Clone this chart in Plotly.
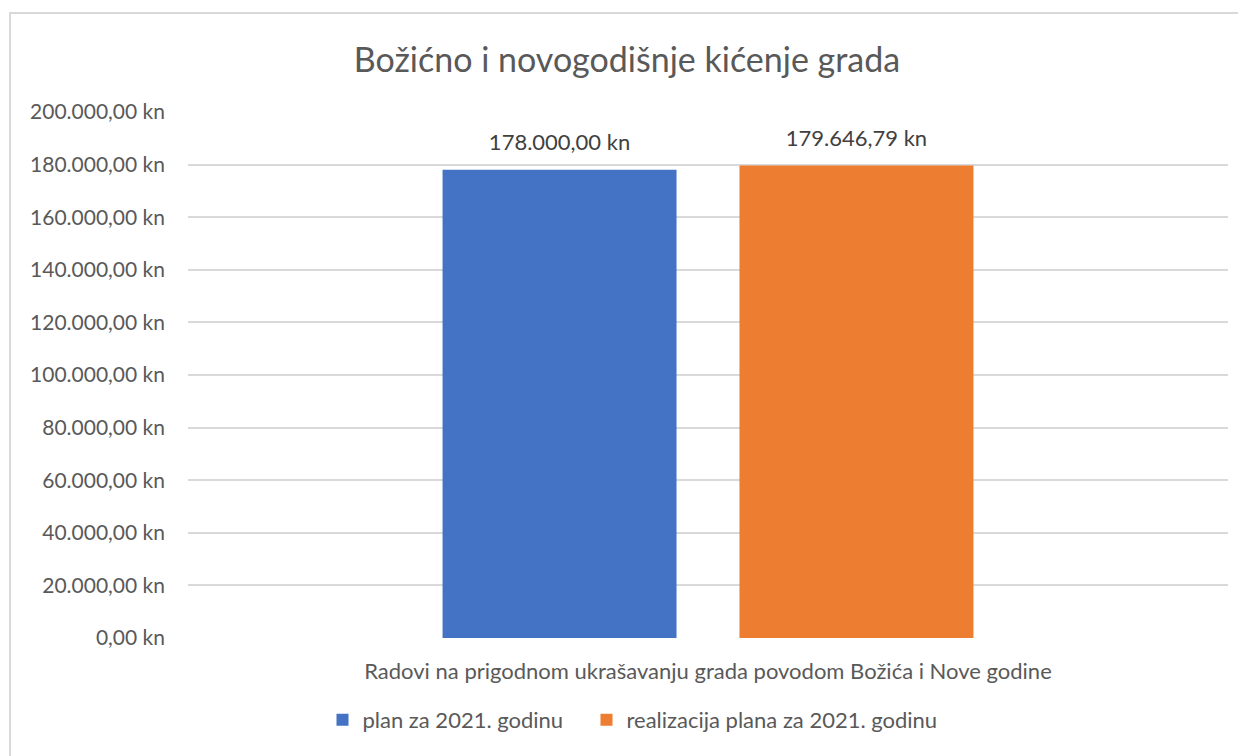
import plotly.graph_objects as go

category = ["Radovi na prigodnom ukrašavanju grada povodom Božića i Nove godine"]
series_names = ["plan za 2021. godinu", "realizacija plana za 2021. godinu"]
series_values = [178000.00, 179646.79]
series_labels = ["178.000,00 kn", "179.646,79 kn"]
series_colors = ["#4472C4", "#ED7D31"]
tick_values = [0, 20000, 40000, 60000, 80000, 100000, 120000, 140000, 160000, 180000, 200000]
tick_labels = ["0,00 kn", "20.000,00 kn", "40.000,00 kn", "60.000,00 kn", "80.000,00 kn",
               "100.000,00 kn", "120.000,00 kn", "140.000,00 kn", "160.000,00 kn",
               "180.000,00 kn", "200.000,00 kn"]
legend_widths = [219, 326]

FONT = "Lato, 'Open Sans', sans-serif"
OFF = 8  # default body margin of the html page
W, H = 1246 - OFF, 756 - OFF
L, T, PW, PH = 188 - OFF, 112 - OFF, 1040, 526
YMAX = 200000
LABEL_LIFT = 12 * YMAX / PH  # extra label clearance above bars (12 px)

fig = go.Figure()
for name, val, col, lw in zip(series_names, series_values, series_colors, legend_widths):
    fig.add_trace(go.Bar(
        x=category, y=[val], name=name, marker=dict(color=col, line=dict(width=0)),
        hoverinfo="name+y", legendwidth=lw,
    ))
# value labels: invisible twin bars on an overlaid axis, grouped identically
for name, val, lab in zip(series_names, series_values, series_labels):
    fig.add_trace(go.Bar(
        x=category, y=[val], yaxis="y2", text=[lab], textposition="outside",
        cliponaxis=False, marker=dict(color="rgba(0,0,0,0)", line=dict(width=0)),
        showlegend=False, hoverinfo="skip",
        textfont=dict(size=22, color="#404040", family=FONT),
    ))

fig.update_layout(
    width=W, height=H,
    margin=dict(l=L, r=W - L - PW, t=T, b=H - T - PH, pad=0, autoexpand=False),
    paper_bgcolor="white", plot_bgcolor="white",
    font=dict(family=FONT, color="#595959", size=22),
    title=dict(text="Božićno i novogodišnje kićenje grada", x=0.5, xanchor="center",
               y=1 - (60 - OFF) / H, yanchor="middle", font=dict(size=34, color="#595959")),
    barmode="group", bargap=0.429, bargroupgap=0.212,
    showlegend=True,
    legend=dict(orientation="h", x=(640 - 188) / PW, xanchor="center",
                y=-(720 - 638) / PH, yanchor="middle",
                font=dict(size=22, color="#595959"), itemwidth=30, traceorder="normal"),
    xaxis=dict(showgrid=False, showline=False, ticks="", ticklabelstandoff=18,
               tickfont=dict(size=22, color="#595959")),
    yaxis=dict(range=[0, YMAX], tickvals=tick_values, ticktext=tick_labels,
               showgrid=True, gridcolor="#D9D9D9", gridwidth=1.5, zeroline=False,
               showline=False, ticks="", ticklabelstandoff=22,
               tickfont=dict(size=21, color="#595959")),
    yaxis2=dict(overlaying="y", range=[-LABEL_LIFT, YMAX - LABEL_LIFT], visible=False),
    shapes=[dict(type="rect", xref="paper", yref="paper",
                 x0=(10 - 188) / PW, x1=1.05, y0=-0.3, y1=(638 - 13) / PH,
                 line=dict(color="#D9D9D9", width=2), fillcolor="rgba(0,0,0,0)", layer="below")],
)
fig.write_html("out.html")
